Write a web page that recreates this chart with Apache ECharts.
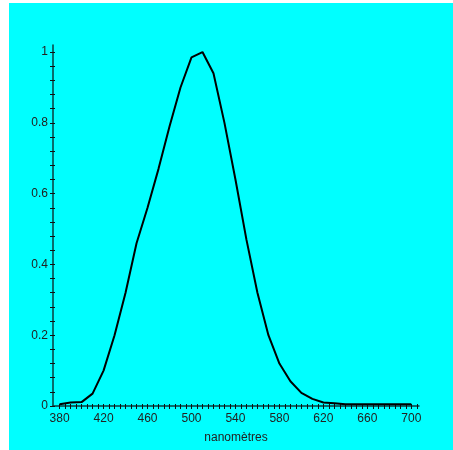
<!DOCTYPE html>
<html>
<head>
<meta charset="utf-8">
<script src="https://cdn.jsdelivr.net/npm/echarts@6/dist/echarts.min.js"></script>
<style>
html,body{margin:0;padding:0;background:#ffffff;width:453px;height:450px;overflow:hidden;}
#chart{position:absolute;left:9px;top:3px;width:444px;height:447px;background:#00ffff;}
</style>
</head>
<body>
<div id="chart"></div>
<script>
var wavelengths = [380,390,400,410,420,430,440,450,460,470,480,490,500,510,520,530,540,550,560,570,580,590,600,610,620,630,640,650,660,670,680,690,700];
var sensitivity = [0.005,0.01,0.011,0.035,0.1,0.2,0.32,0.46,0.56,0.67,0.79,0.9,0.985,1.0,0.94,0.8,0.64,0.47,0.32,0.2,0.12,0.07,0.037,0.02,0.01,0.008,0.005,0.005,0.005,0.005,0.005,0.005,0.005];
var xLabels = [380,420,460,500,540,580,620,660,700];
var yLabels = [0,0.2,0.4,0.6,0.8,1];
var xMinorTicks = [];
for (var v = 380; v <= 705; v += 5) xMinorTicks.push(v);
var yMinorTicks = [];
for (var k = 0; k <= 25; k++) yMinorTicks.push(+(k * 0.04).toFixed(2));

var axisColor = '#0c3c3c';
var textStyle = {color:'#222', fontFamily:'Liberation Sans, Arial, sans-serif', fontSize:12};

var chart = echarts.init(document.getElementById('chart'), null, {renderer:'canvas'});
chart.setOption({
  animation:false,
  backgroundColor:'#00ffff',
  grid:{left:44, right:34, top:42, bottom:44, containLabel:false},
  xAxis:[{
    type:'value', min:374, max:707,
    axisLine:{show:true, onZero:false, lineStyle:{color:axisColor, width:1.5}},
    axisTick:{show:true, customValues:xMinorTicks, length:3, lineStyle:{color:'#111', width:1}},
    axisLabel:Object.assign({customValues:xLabels, margin:7}, textStyle),
    splitLine:{show:false},
    name:'nanomètres', nameLocation:'middle', nameGap:26,
    nameTextStyle:textStyle
  },{
    type:'value', min:374, max:707, position:'bottom',
    axisLine:{show:false},
    axisTick:{show:true, inside:true, customValues:xMinorTicks, length:2, lineStyle:{color:'#111', width:1}},
    axisLabel:{show:false}, splitLine:{show:false}
  }],
  yAxis:[{
    type:'value', min:0, max:1.02,
    axisLine:{show:true, onZero:false, lineStyle:{color:axisColor, width:1.5}},
    axisTick:{show:true, customValues:yMinorTicks, length:3, lineStyle:{color:'#111', width:1}},
    axisLabel:Object.assign({customValues:yLabels, margin:5}, textStyle),
    splitLine:{show:false}
  },{
    type:'value', min:0, max:1.02, position:'left',
    axisLine:{show:false},
    axisTick:{show:true, inside:true, customValues:yMinorTicks, length:2, lineStyle:{color:'#111', width:1}},
    axisLabel:{show:false}, splitLine:{show:false}
  }],
  series:[{
    type:'line',
    xAxisIndex:0, yAxisIndex:0,
    data:wavelengths.map(function(w,i){return [w, sensitivity[i]];}),
    symbol:'none',
    lineStyle:{color:'#000', width:2},
    silent:true
  }]
});
</script>
</body>
</html>
